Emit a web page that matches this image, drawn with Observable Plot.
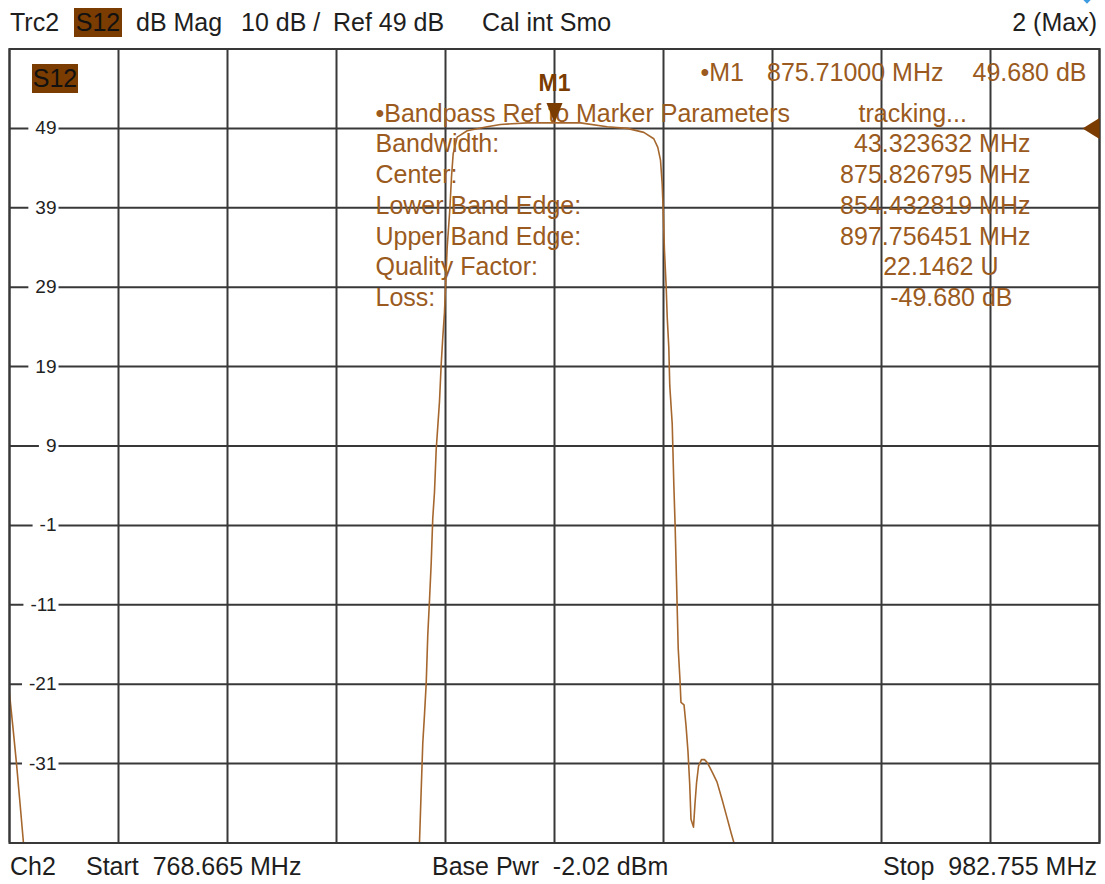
<!DOCTYPE html>
<html>
<head>
<meta charset="utf-8">
<script src="https://cdn.jsdelivr.net/npm/d3@7"></script>
<script src="https://cdn.jsdelivr.net/npm/@observablehq/plot@0.6"></script>
<style>
  html, body { margin: 0; padding: 0; background: #fff; }
  #wrap { position: relative; width: 1105px; height: 884px; overflow: hidden;
          font-family: "Liberation Sans", Arial, sans-serif; color: #1e1e1e; }
  .t { position: absolute; font-size: 25px; line-height: 30px; white-space: pre; }
  .box { position: absolute; background: #7a3c00; color: #111; font-size: 25px;
         line-height: 29px; text-align: center; }
  #chart { position: absolute; left: 0; top: 0; }
</style>
</head>
<body>
<div id="wrap">
  <div id="chart"></div>
</div>
<script>
// ---------- data ----------
const startMHz = 768.665;
const stopMHz = 982.755;
const refLevel = 49;          // dB
const yTicks = [49, 39, 29, 19, 9, -1, -11, -21, -31];
const yDomain = [-41, 59];

// trace S12 (MHz, dB)
const traceFreq = [
  768.665, 769.35, 770.04, 770.73, 771.41, 772.20, 773.50,
  848.20, 848.80, 849.19, 849.53, 849.84, 850.17, 850.51, 850.82, 851.16, 851.49,
  851.80, 852.14, 852.47, 852.79, 853.12, 853.45, 853.77, 854.10, 854.30, 854.63,
  855.14, 855.48, 855.81, 856.60, 858.56, 862.49, 865.10, 870.35, 875.71, 880.81,
  886.06, 889.99, 893.25, 895.21, 896.00, 896.53, 896.86, 897.06, 897.31, 897.65,
  897.85, 898.16, 898.35, 898.83, 899.14, 899.41, 899.67, 900.01, 900.36, 900.55,
  901.15, 901.54, 901.93, 902.26, 902.52, 903.01, 903.31, 903.60, 904.00, 904.58,
  905.17, 905.76, 906.64, 907.62, 908.61, 909.59, 910.47, 911.06, 911.60
];
const traceDB = [
  -22.2, -26.5, -31.0, -36.0, -41.0, -47.0, -55.0,
  -55.0, -46.0, -41.0, -34.3, -28.4, -24.9, -20.9, -14.8, -10.4, -5.8,
  -0.1, 3.2, 8.5, 11.5, 14.6, 19.2, 22.7, 25.8, 29.0, 34.0,
  38.7, 42.9, 45.8, 47.9, 48.7, 49.2, 49.5, 49.7, 49.7, 49.7,
  49.2, 49.0, 48.5, 47.7, 46.6, 45.0, 42.0, 38.7, 33.6, 29.0,
  25.2, 21.4, 16.6, 11.8, 4.3, -1.2, -7.8, -16.5, -20.5, -23.3,
  -23.6, -26.2, -29.5, -33.5, -38.0, -39.0, -36.0, -33.5, -31.3, -30.5,
  -30.5, -30.9, -32.0, -33.3, -35.5, -37.8, -39.9, -41.2, -43.5
];

const markerFreq = 875.71;
const markerDB = 49.68;

const headerLeft = ["Trc2", "S12", "dB Mag", "10 dB /", "Ref 49 dB", "Cal int Smo"];
const headerRight = "2 (Max)";
const footerItems = ["Ch2", "Start  768.665 MHz", "Base Pwr  -2.02 dBm", "Stop  982.755 MHz"];

const markerLine = ["\u2022M1", "875.71000 MHz", "49.680 dB"];
const bpTitle = "\u2022Bandpass Ref to Marker Parameters";
const bpStatus = "tracking...";
const bpLabels = ["Bandwidth:", "Center:", "Lower Band Edge:", "Upper Band Edge:", "Quality Factor:", "Loss:"];
const bpValues = ["43.323632 MHz", "875.826795 MHz", "854.432819 MHz", "897.756451 MHz", "22.1462 U", "-49.680 dB"];

// ---------- build ----------
const trace = traceFreq.map((f, i) => ({f, db: traceDB[i]}));
const nDiv = 10;
const xGrid = d3.range(nDiv + 1).map(k => startMHz + k * (stopMHz - startMHz) / nDiv);
const yGrid = d3.range(yDomain[0], yDomain[1] + 1, 10);

const TXT = "#9a5a20";
const LINE = "#a5672e";
const DARK = "#7a3c00";
const GRID = "#383838";

// frame geometry
const W = 1105, H = 884, mL = 9, mR = 6, mT = 48.5, mB = 41.5;
const sx = Plot.scale({x: {domain: [startMHz, stopMHz], range: [mL, W - mR]}});
const sy = Plot.scale({y: {domain: yDomain, range: [H - mB, mT]}});

// custom symbols
const downTri = { draw(ctx) { ctx.moveTo(-8, -20); ctx.lineTo(8, -20); ctx.lineTo(0, 0); ctx.closePath(); } };
const leftTri = { draw(ctx) { ctx.moveTo(0, -10.5); ctx.lineTo(0, 10.5); ctx.lineTo(-17, 0); ctx.closePath(); } };

// annotation block (screen layout of the analyzer's marker info)
const info = [];
info.push({t: markerLine[0], px: 700, py: 72, a: "start"});
info.push({t: markerLine[1], px: 943, py: 72, a: "end"});
info.push({t: markerLine[2], px: 1086, py: 72, a: "end"});
info.push({t: bpTitle, px: 375, py: 113, a: "start"});
info.push({t: bpStatus, px: 858, py: 113, a: "start"});
const rowY = [143.5, 174, 205, 236, 266.5, 297];
const valEnd = [1030, 1030, 1030, 1030, 998, 1012];
bpLabels.forEach((l, i) => {
  info.push({t: l, px: 375, py: rowY[i], a: "start"});
  info.push({t: bpValues[i], px: valEnd[i], py: rowY[i], a: "end"});
});
info.forEach(d => { d.f = sx.invert(d.px); d.db = sy.invert(d.py); });

const chart = Plot.plot({
  width: W, height: H,
  marginLeft: mL, marginRight: mR, marginTop: mT, marginBottom: mB,
  x: {domain: [startMHz, stopMHz], axis: null},
  y: {domain: yDomain, axis: null},
  style: {fontFamily: "'Liberation Sans', Arial, sans-serif", background: "transparent", overflow: "visible"},
  marks: [
    Plot.ruleX(xGrid, {stroke: GRID, strokeWidth: 2}),
    Plot.ruleY(yGrid, {stroke: GRID, strokeWidth: 2}),
    Plot.text(yTicks, {
      x: () => startMHz, y: d => d, text: d => String(d),
      dx: 47, textAnchor: "end", lineAnchor: "middle",
      fontSize: 19, fill: "#222",
      render(index, scales, values, dims, ctx, next) {
        const g = next(index, scales, values, dims, ctx);
        g.setAttribute("class", "ylab");
        return g;
      }
    }),
    Plot.text(info.filter(d => d.a === "start"), {
      x: "f", y: "db", text: "t", textAnchor: "start", lineAnchor: "middle",
      fontSize: 25, fill: TXT
    }),
    Plot.text(info.filter(d => d.a === "end"), {
      x: "f", y: "db", text: "t", textAnchor: "end", lineAnchor: "middle",
      fontSize: 25, fill: TXT
    }),
    Plot.line(trace, {x: "f", y: "db", stroke: LINE, strokeWidth: 1.6, clip: true}),
    Plot.frame({stroke: GRID, strokeWidth: 2}),
    Plot.dot([{f: markerFreq, db: markerDB}], {x: "f", y: "db", symbol: downTri, fill: DARK, stroke: "none", r: 1}),
    Plot.text([{f: markerFreq, db: markerDB}], {x: "f", y: "db", text: () => "M1", dy: -39, fontSize: 23, fontWeight: "bold", fill: DARK}),
    Plot.dot([{f: stopMHz, db: refLevel}], {x: "f", y: "db", symbol: leftTri, fill: DARK, stroke: "none", r: 1})
  ]
});
document.getElementById("chart").appendChild(chart);

// white gaps behind the y tick labels (the grid line is broken around each label)
d3.select(chart).selectAll("g.ylab text").each(function() {
  const bb = this.getBBox();
  const tr = [this.parentNode.getAttribute("transform"), this.getAttribute("transform")].filter(Boolean).join(" ");
  const r = document.createElementNS("http://www.w3.org/2000/svg", "rect");
  r.setAttribute("x", bb.x - 7);
  r.setAttribute("y", bb.y + 2);
  r.setAttribute("width", bb.width + 9);
  r.setAttribute("height", Math.max(0, bb.height - 4));
  r.setAttribute("fill", "white");
  if (tr) r.setAttribute("transform", tr);
  // place the rect just before the label group so the label stays on top
  const grp = this.parentNode;
  grp.parentNode.insertBefore(r, grp);
});

// ---------- header / footer (HTML text) ----------
const wrap = document.getElementById("wrap");
function addText(txt, left, top, cls, extra) {
  const s = document.createElement("div");
  s.className = cls || "t";
  s.textContent = txt;
  s.style.left = left + "px";
  s.style.top = top + "px";
  if (extra) Object.assign(s.style, extra);
  wrap.appendChild(s);
  return s;
}
const hx = [10, 74, 136, 241, 333, 482];
headerLeft.forEach((t, i) => {
  if (i === 1) addText(t, hx[i], 8, "box", {width: "48px", height: "29px"});
  else addText(t, hx[i], 7);
});
addText(headerRight, 0, 7, "t", {left: "auto", right: "8px"});
// S12 tag inside the grid
addText("S12", 32, 64, "box", {width: "46px", height: "29px"});
// footer
addText(footerItems[0], 10, 851);
addText(footerItems[1], 86, 851);
addText(footerItems[2], 432, 851);
addText(footerItems[3], 0, 851, "t", {left: "auto", right: "8px"});
// small blue indicator at top right
const b = document.createElement("div");
Object.assign(b.style, {position: "absolute", left: "1083px", top: "-6px", width: "8px", height: "8px",
  background: "#3d9be0", transform: "rotate(45deg)"});
wrap.appendChild(b);
</script>
</body>
</html>
